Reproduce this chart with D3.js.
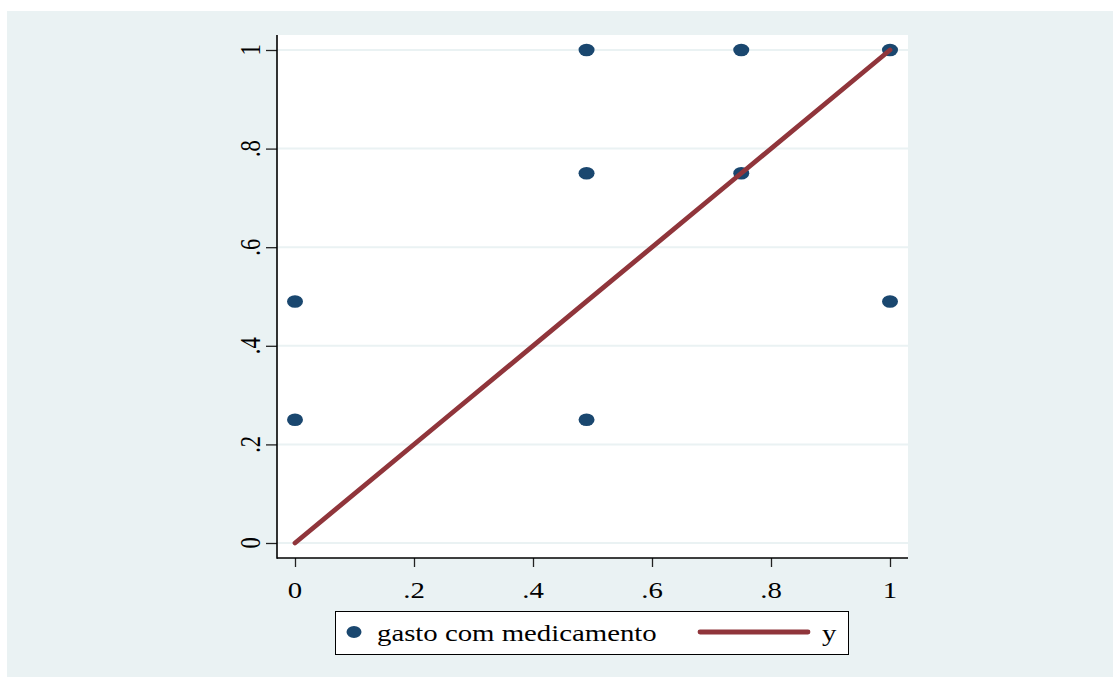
<!DOCTYPE html>
<html><head><meta charset="utf-8">
<script src="https://cdn.jsdelivr.net/npm/d3@7"></script>
<style>html,body{margin:0;padding:0;background:#fff;}svg{display:block;}</style>
</head><body>
<script>
const pointX = [0, 0, 0.49, 0.49, 0.49, 0.75, 0.75, 1, 1];
const pointY = [0.49, 0.25, 1, 0.75, 0.25, 1, 0.75, 1, 0.49];
const lineX = [0, 0.25, 0.49, 0.75, 1];
const lineY = [0, 0.25, 0.49, 0.75, 1];
const xTicks = [0, 0.2, 0.4, 0.6, 0.8, 1];
const yTicks = [0, 0.2, 0.4, 0.6, 0.8, 1];
const legendLabels = ["gasto com medicamento", "y"];

const W = 1113, H = 677;
const STRETCH = 1.28;
const navy = "#1a476f", maroon = "#90353b", bg = "#eaf2f3";
const fmt = v => v === 0 ? "0" : v === 1 ? "1" : String(v).replace(/^0/, "");

const svg = d3.select("body").append("svg").attr("width", W).attr("height", H);
svg.append("rect").attr("x", 7).attr("y", 11).attr("width", W - 7).attr("height", H - 11).attr("fill", bg);

const x = d3.scaleLinear().domain([0, 1]).range([295, 890]);
const y = d3.scaleLinear().domain([0, 1]).range([543, 50]);
const plotL = 277, plotR = 908, plotT = 35, plotB = 558;

svg.append("rect").attr("x", plotL).attr("y", plotT).attr("width", plotR - plotL).attr("height", plotB - plotT).attr("fill", "#fff");

// gridlines
svg.append("g").selectAll("line").data(yTicks).join("line")
  .attr("x1", plotL).attr("x2", plotR)
  .attr("y1", d => y(d)).attr("y2", d => y(d))
  .attr("stroke", bg).attr("stroke-width", 2);

// axes
const gy = svg.append("g").attr("transform", `translate(${plotL},0)`)
  .call(d3.axisLeft(y).tickValues(yTicks).tickSize(11).tickFormat(""));
const gx = svg.append("g").attr("transform", `translate(0,${plotB})`)
  .call(d3.axisBottom(x).tickValues(xTicks).tickSize(9).tickFormat(""));
[gx, gy].forEach(g => {
  g.select(".domain").remove();
  g.selectAll(".tick line").attr("stroke", "#222").attr("stroke-width", 1.3);
});
svg.append("line").attr("x1", plotL).attr("x2", plotL).attr("y1", plotT).attr("y2", plotB + 0.75)
  .attr("stroke", "#000").attr("stroke-width", 1.6);
svg.append("line").attr("x1", plotL).attr("x2", plotR).attr("y1", plotB).attr("y2", plotB)
  .attr("stroke", "#000").attr("stroke-width", 1.6);

const font = "'Liberation Serif', 'Times New Roman', serif";
// x labels
svg.append("g").selectAll("text").data(xTicks).join("text")
  .attr("transform", d => `translate(${x(d)},598) scale(${STRETCH},1)`)
  .attr("text-anchor", "middle").attr("font-family", font).attr("font-size", 22.5).attr("fill", "#000")
  .text(fmt);
// y labels
svg.append("g").selectAll("text").data(yTicks).join("text")
  .attr("transform", d => `translate(260,${y(d)}) scale(${STRETCH},1) rotate(-90)`)
  .attr("text-anchor", "middle").attr("font-family", font).attr("font-size", 22.5).attr("fill", "#000")
  .text(fmt);

// points
const pts = pointX.map((v, i) => [v, pointY[i]]);
svg.append("g").selectAll("ellipse").data(pts).join("ellipse")
  .attr("cx", d => x(d[0])).attr("cy", d => y(d[1]))
  .attr("rx", 8).attr("ry", 6.3).attr("fill", navy);

// line
const ln = lineX.map((v, i) => [v, lineY[i]]);
svg.append("path").datum(ln)
  .attr("d", d3.line().x(d => x(d[0])).y(d => y(d[1])))
  .attr("fill", "none").attr("stroke", maroon).attr("stroke-width", 4.8).attr("stroke-linecap", "round");

// legend
const lg = svg.append("g");
lg.append("rect").attr("x", 335.5).attr("y", 611.5).attr("width", 513).attr("height", 43)
  .attr("fill", "#fff").attr("stroke", "#000").attr("stroke-width", 1);
lg.append("ellipse").attr("cx", 354).attr("cy", 632).attr("rx", 7.5).attr("ry", 6).attr("fill", navy);
lg.append("text").attr("transform", `translate(377,641) scale(${STRETCH},1)`)
  .attr("font-family", font).attr("font-size", 22.5).attr("fill", "#000").text(legendLabels[0]);
lg.append("line").attr("x1", 700).attr("x2", 808).attr("y1", 632).attr("y2", 632)
  .attr("stroke", maroon).attr("stroke-width", 4.8).attr("stroke-linecap", "round");
lg.append("text").attr("transform", `translate(822,641) scale(${STRETCH},1)`)
  .attr("font-family", font).attr("font-size", 22.5).attr("fill", "#000").text(legendLabels[1]);
</script>
</body></html>
